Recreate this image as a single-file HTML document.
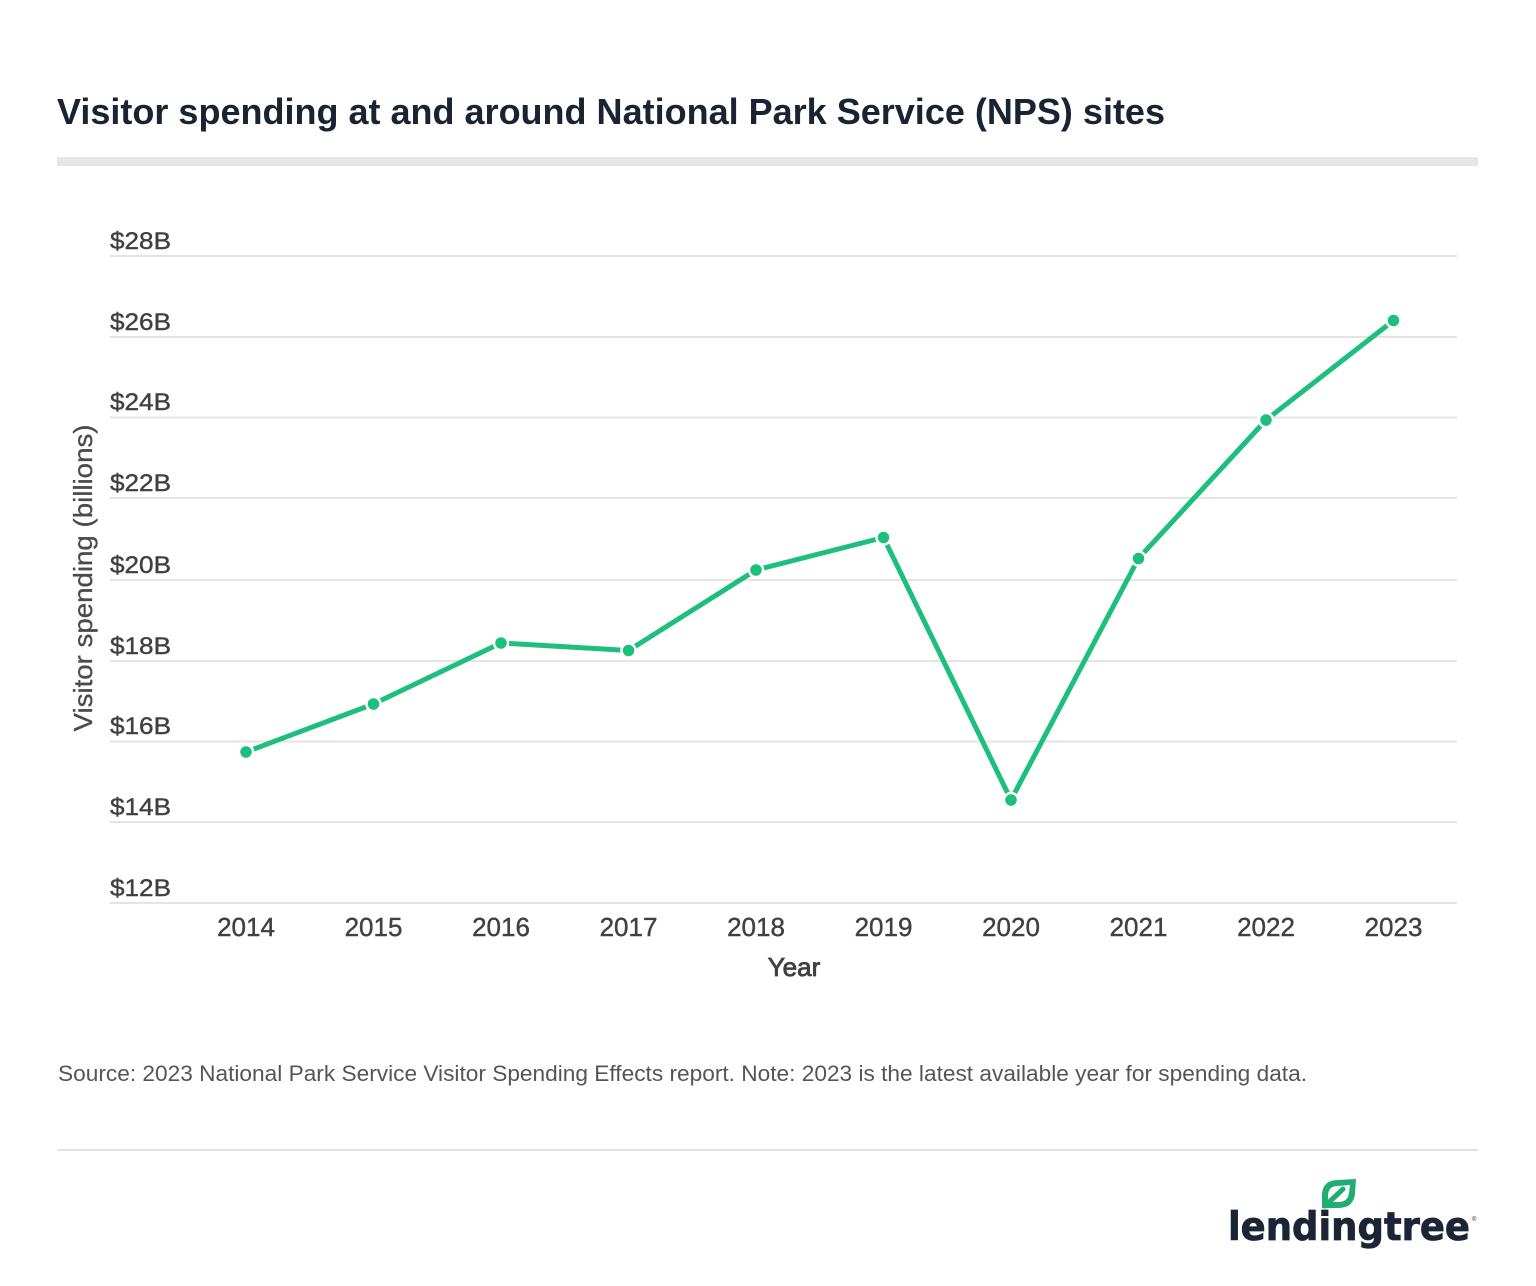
<!DOCTYPE html>
<html>
<head>
<meta charset="utf-8">
<style>
  html, body { margin: 0; padding: 0; background: #ffffff; }
  svg { display: block; }
</style>
</head>
<body>
<svg width="1536" height="1286" viewBox="0 0 1536 1286" xmlns="http://www.w3.org/2000/svg">
  <rect x="0" y="0" width="1536" height="1286" fill="#ffffff"/>

  <!-- Title -->
  <text x="57" y="124" font-family="Liberation Sans, sans-serif" font-weight="bold" font-size="36" fill="#1a2332" textLength="1108" lengthAdjust="spacingAndGlyphs">Visitor spending at and around National Park Service (NPS) sites</text>
  <rect x="57" y="157" width="1421" height="9" fill="#e6e6e6"/>

  <!-- Gridlines -->
  <g stroke="#e4e4e4" stroke-width="2">
    <line x1="110" y1="256" x2="1457" y2="256"/>
    <line x1="110" y1="337" x2="1457" y2="337"/>
    <line x1="110" y1="417.5" x2="1457" y2="417.5"/>
    <line x1="110" y1="498" x2="1457" y2="498"/>
    <line x1="110" y1="580" x2="1457" y2="580"/>
    <line x1="110" y1="661" x2="1457" y2="661"/>
    <line x1="110" y1="741.5" x2="1457" y2="741.5"/>
    <line x1="110" y1="822" x2="1457" y2="822"/>
    <line x1="110" y1="903" x2="1457" y2="903"/>
  </g>

  <!-- Y tick labels -->
  <g font-family="Liberation Sans, sans-serif" font-size="24" fill="#404040" stroke="#404040" stroke-width="0.4">
    <text x="110" y="249" textLength="61" lengthAdjust="spacingAndGlyphs">$28B</text>
    <text x="110" y="330" textLength="61" lengthAdjust="spacingAndGlyphs">$26B</text>
    <text x="110" y="410" textLength="61" lengthAdjust="spacingAndGlyphs">$24B</text>
    <text x="110" y="491" textLength="61" lengthAdjust="spacingAndGlyphs">$22B</text>
    <text x="110" y="573" textLength="61" lengthAdjust="spacingAndGlyphs">$20B</text>
    <text x="110" y="654" textLength="61" lengthAdjust="spacingAndGlyphs">$18B</text>
    <text x="110" y="734" textLength="61" lengthAdjust="spacingAndGlyphs">$16B</text>
    <text x="110" y="815" textLength="61" lengthAdjust="spacingAndGlyphs">$14B</text>
    <text x="110" y="896" textLength="61" lengthAdjust="spacingAndGlyphs">$12B</text>
  </g>

  <!-- Y axis title -->
  <text transform="translate(92,578) rotate(-90)" text-anchor="middle" font-family="Liberation Sans, sans-serif" font-size="26" fill="#4a4a4a" stroke="#4a4a4a" stroke-width="0.3" textLength="307" lengthAdjust="spacingAndGlyphs">Visitor spending (billions)</text>

  <!-- X tick labels -->
  <g font-family="Liberation Sans, sans-serif" font-size="26" fill="#404040" stroke="#404040" stroke-width="0.4" text-anchor="middle">
    <text x="246" y="936">2014</text>
    <text x="373.5" y="936">2015</text>
    <text x="501" y="936">2016</text>
    <text x="628.5" y="936">2017</text>
    <text x="756" y="936">2018</text>
    <text x="883.5" y="936">2019</text>
    <text x="1011" y="936">2020</text>
    <text x="1138.5" y="936">2021</text>
    <text x="1266" y="936">2022</text>
    <text x="1393.5" y="936">2023</text>
  </g>
  <text x="794" y="976" text-anchor="middle" font-family="Liberation Sans, sans-serif" font-size="26" fill="#404040" stroke="#404040" stroke-width="0.8">Year</text>

  <!-- Data line -->
  <polyline fill="none" stroke="#1dbf7e" stroke-width="5" stroke-linejoin="round"
    points="246,752 373.5,704 501,643 628.5,650.5 756,570 883.5,537.5 1011,800 1138.5,558.5 1266,420 1393.5,320.5"/>
  <g fill="#1dbf7e" stroke="#ffffff" stroke-width="2.5">
    <circle cx="246" cy="752" r="7"/>
    <circle cx="373.5" cy="704" r="7"/>
    <circle cx="501" cy="643" r="7"/>
    <circle cx="628.5" cy="650.5" r="7"/>
    <circle cx="756" cy="570" r="7"/>
    <circle cx="883.5" cy="537.5" r="7"/>
    <circle cx="1011" cy="800" r="7"/>
    <circle cx="1138.5" cy="558.5" r="7"/>
    <circle cx="1266" cy="420" r="7"/>
    <circle cx="1393.5" cy="320.5" r="7"/>
  </g>

  <!-- Source -->
  <text x="58" y="1081" font-family="Liberation Sans, sans-serif" font-size="22" fill="#555555" textLength="1249" lengthAdjust="spacingAndGlyphs">Source: 2023 National Park Service Visitor Spending Effects report. Note: 2023 is the latest available year for spending data.</text>

  <rect x="57" y="1149" width="1421" height="2" fill="#e2e2e2"/>

  <!-- Logo -->
  <path d="M1322,1208 L1322,1196 Q1322,1180 1338,1180 L1356,1179 L1355,1193 Q1354,1208 1338,1208 Z" fill="#1fae72"/>
  <path d="M1328,1202 L1328,1196 Q1328,1186 1338,1186 L1350,1185 L1349,1193 Q1348,1202 1338,1202 Z" fill="#ffffff"/>
  <path d="M1325,1206 L1343,1189" stroke="#1fae72" stroke-width="5" stroke-linecap="round"/>
  <text x="1228" y="1240" font-family="DejaVu Sans, Liberation Sans, sans-serif" font-weight="bold" font-size="39" fill="#1c2536" stroke="#1c2536" stroke-width="0.8" textLength="242" lengthAdjust="spacingAndGlyphs">lendingtree</text>
  <text x="1472" y="1221" font-family="Liberation Sans, sans-serif" font-size="6" fill="#1c2536">®</text>
</svg>
</body>
</html>
